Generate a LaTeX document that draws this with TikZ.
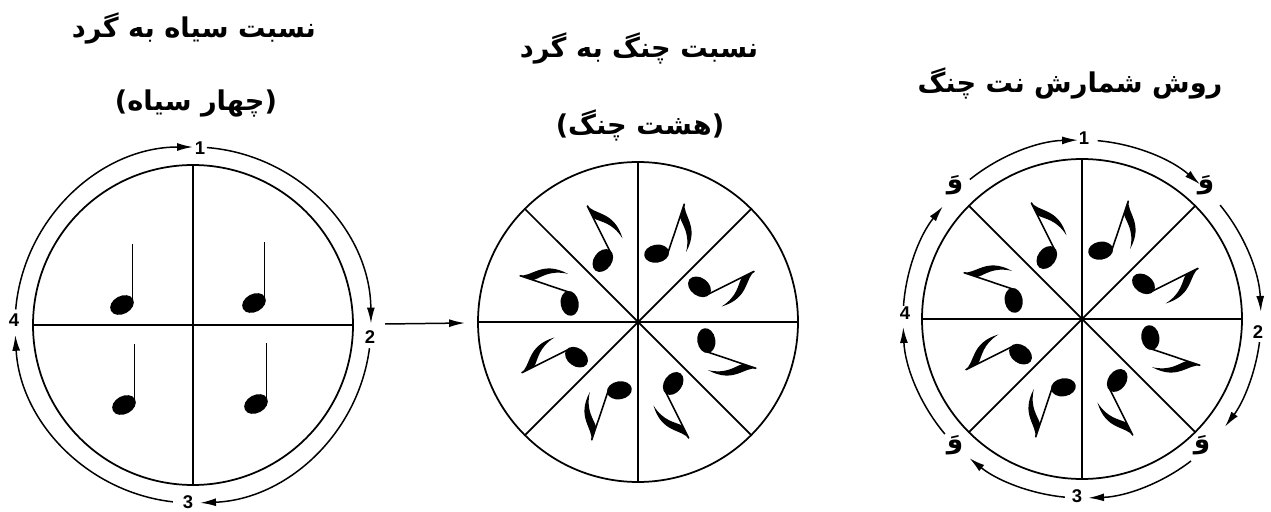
\documentclass[tikz,border=0pt]{standalone}
\usepackage{fontspec}
\usetikzlibrary{arrows.meta, positioning, calc}
\TeXXeTstate=1
\newfontfamily\farsi[Script=Arabic]{DejaVu Sans}
\newfontfamily\digits{Liberation Sans}
\newcommand{\fa}[1]{\beginR #1\endR}

\begin{document}
\begin{tikzpicture}[
  x=0.02cm, y=0.02cm,
  title/.style={font=\farsi\bfseries\fontsize{15.5}{18}\selectfont, inner sep=0pt},
  num/.style={font=\digits\bfseries\fontsize{10.5}{12}\selectfont, inner sep=0pt},
  vav/.style={font=\farsi\bfseries\fontsize{15}{17}\selectfont, inner sep=0pt},
  rim/.style={line width=1pt},
  turn/.style={line width=0.85pt, -{Latex[length=9pt, width=4.5pt]}},
  arrow/.style={line width=0.85pt, -{Latex[length=9pt, width=4.5pt]}},
  crotchet/.pic={
    \fill[rotate around={28:(-10.5,-3)}] (-10.5,-3) ellipse [x radius=12.5, y radius=9];
    \draw[line width=0.9pt] (0,-1) -- (0,58);
  },
  quaver/.pic={
    \fill[rotate around={28:(-10.5,-3)}] (-10.5,-3) ellipse [x radius=12.5, y radius=9];
    \draw[line width=0.9pt] (0,-1) -- (0,53);
    \fill (0,54) .. controls (2,41) and (22,37) .. (17,8) .. controls (15,27) and (5,32) .. (0,39) -- cycle;
  }
]
  \useasboundingbox (0,0) rectangle (1271,511);

  \coordinate (quarter) at (193,186);
  \coordinate (eighth) at (638,189);
  \coordinate (count) at (1082,192);

  % titles
  \node[title] (quarterTitle) at ($(quarter)+(1,297)$) {\fa{نسبت سیاه به گرد}};
  \node[title] (quarterSub) at ($(quarter)+(3,222)$) {\fa{(چهار سیاه)}};
  \node[title] (eighthTitle) at ($(eighth)+(1,274)$) {\fa{نسبت چنگ به گرد}};
  \node[title] (eighthSub) at ($(eighth)+(2,197)$) {\fa{(هشت چنگ)}};
  \node[title] (countTitle) at ($(count)+(-12,236)$) {\fa{روش شمارش نت چنگ}};

  % four quarters
  \draw[rim] (quarter) circle [radius=160];
  \foreach \a in {0,90,180,270}
    \draw[rim] (quarter) -- ++(\a:160);
  \foreach \dx/\dy in {-60.5/23, 71.5/25, -58.5/-77, 73.5/-76}
    \pic at ($(quarter)+(\dx,\dy)$) {crotchet};
  \foreach \s/\e in {175/90, 85.5/0.5, -7.5/-87.7, -96.5/-176.8}
    \draw[turn] (quarter) ++(\s:178) arc [start angle=\s, end angle=\e, radius=178];
  \node[num] (qOne) at ($(quarter)+(7,177)$) {1};
  \node[num] (qTwo) at ($(quarter)+(177,-12)$) {2};
  \node[num] (qThree) at ($(quarter)+(-5,-177)$) {3};
  \node[num] (qFour) at ($(quarter)+(-179,5)$) {4};

  \coordinate (linkA) at ($(quarter)+(192,1)$);
  \coordinate (linkB) at ($(eighth)+(-173,-1)$);
  \draw[arrow] (linkA) -- (linkB);

  % eight quavers
  \draw[rim] (eighth) circle [radius=160];
  \foreach \a in {0,45,...,315}
    \draw[rim] (eighth) -- ++(\a:160);
  \foreach \m in {22.5,67.5,...,337.5}
    \pic[rotate=\m-86] at ($(eighth)+(\m-1:74)$) {quaver};

  % counting
  \draw[rim] (count) circle [radius=160];
  \foreach \a in {0,45,...,315}
    \draw[rim] (count) -- ++(\a:160);
  \foreach \m in {22.5,67.5,...,337.5}
    \pic[rotate=\m-86] at ($(count)+(\m-1:74)$) {quaver};
  \foreach \s/\e in {128.8/91.3, 85/48.8, 39.5/2.3, -7.4/-37, -52.5/-88, -95.5/-129, -140/-177.4, 175.8/141}
    \draw[turn] (count) ++(\s:179) arc [start angle=\s, end angle=\e, radius=179];
  \node[num] (cOne) at ($(count)+(2,181)$) {1};
  \node[num] (cTwo) at ($(count)+(176,-13)$) {2};
  \node[num] (cThree) at ($(count)+(-5,-177)$) {3};
  \node[num] (cFour) at ($(count)+(-177,6)$) {4};
  \node[vav] (vavNE) at ($(count)+(124,134)$) {\fa{وَ}};
  \node[vav] (vavSE) at ($(count)+(120,-126)$) {\fa{وَ}};
  \node[vav] (vavSW) at ($(count)+(-127,-126)$) {\fa{وَ}};
  \node[vav] (vavNW) at ($(count)+(-127,134)$) {\fa{وَ}};
\end{tikzpicture}
\end{document}
